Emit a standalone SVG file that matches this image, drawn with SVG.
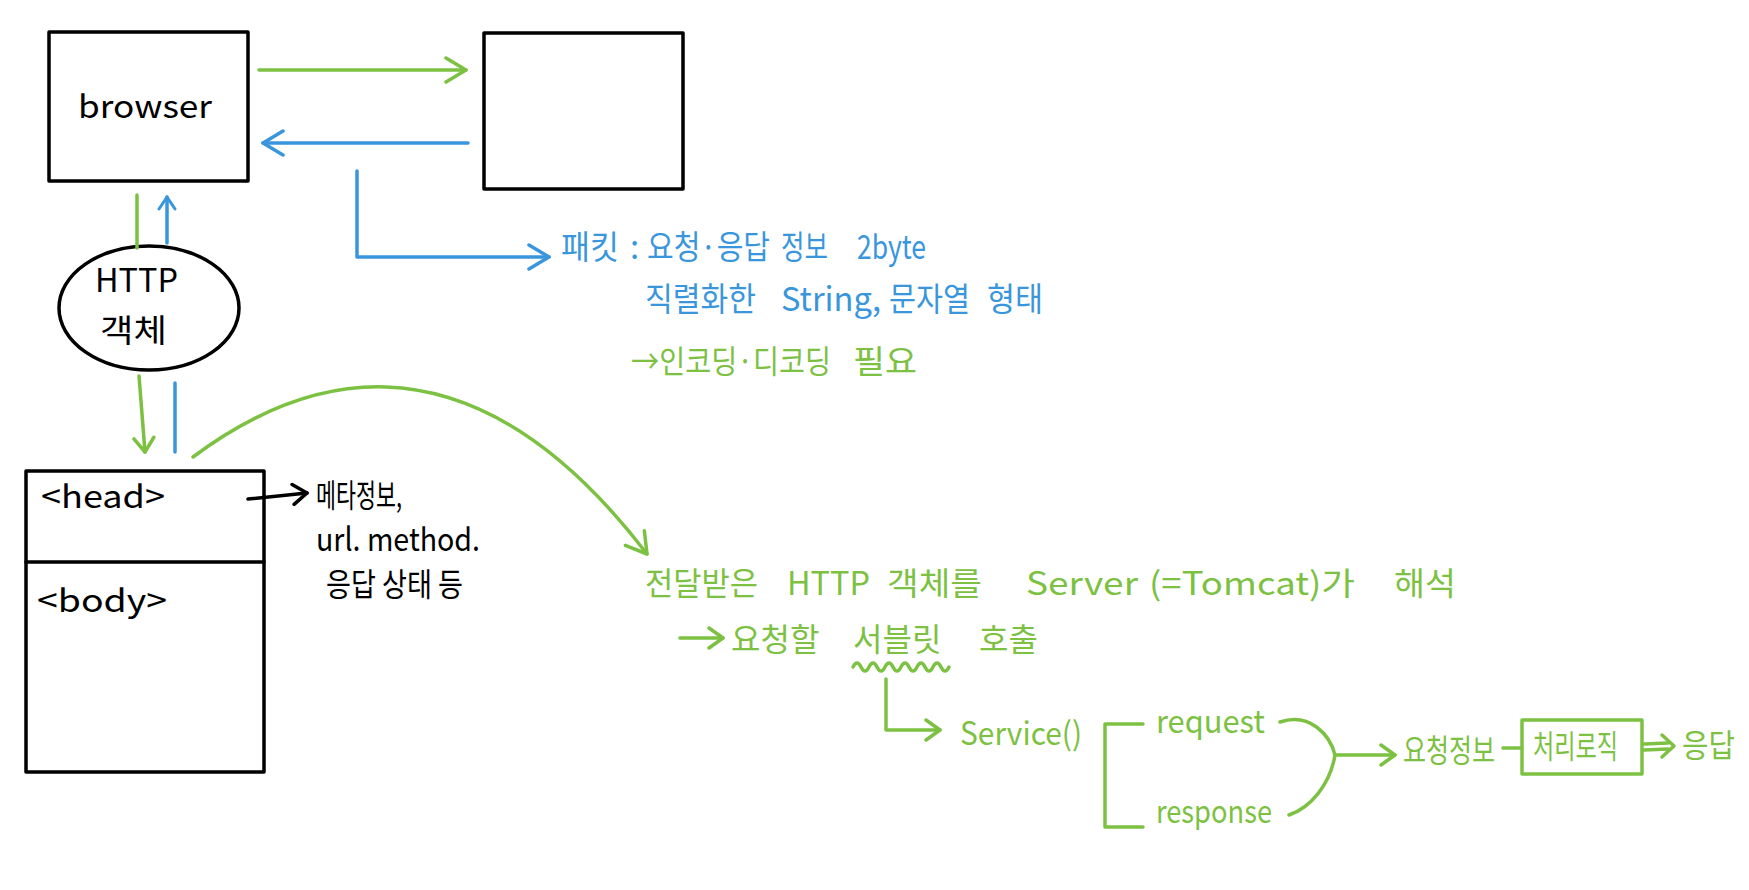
<svg xmlns="http://www.w3.org/2000/svg" width="1749" height="890" viewBox="0 0 1749 890">
<defs>
<style>
.bk{fill:none;stroke:#000;stroke-width:3.5;stroke-linecap:round;stroke-linejoin:round}
.gn{fill:none;stroke:#7cc142;stroke-width:3.5;stroke-linecap:round;stroke-linejoin:round}
.bl{fill:none;stroke:#3a96dc;stroke-width:3.5;stroke-linecap:round;stroke-linejoin:round}
text{font-family:"Noto Sans CJK KR","Noto Sans",sans-serif}
.tb{fill:#000;font-size:32px}
.tg{fill:#7cc142;font-size:32px}
.tu{fill:#3a96dc;font-size:33px}
</style>
<marker id="ag" viewBox="0 0 24 28" refX="22" refY="14" markerWidth="24" markerHeight="28" markerUnits="userSpaceOnUse" orient="auto"><path d="M2,2 L22,14 L2,26" fill="none" stroke="#7cc142" stroke-width="3.5" stroke-linecap="round" stroke-linejoin="round"/></marker>
<marker id="ab" viewBox="0 0 24 28" refX="22" refY="14" markerWidth="24" markerHeight="28" markerUnits="userSpaceOnUse" orient="auto"><path d="M2,2 L22,14 L2,26" fill="none" stroke="#3a96dc" stroke-width="3.5" stroke-linecap="round" stroke-linejoin="round"/></marker>
<marker id="abs" viewBox="0 0 16 20" refX="14" refY="10" markerWidth="16" markerHeight="20" markerUnits="userSpaceOnUse" orient="auto"><path d="M2,2 L14,10 L2,18" fill="none" stroke="#3a96dc" stroke-width="3" stroke-linecap="round" stroke-linejoin="round"/></marker>
<marker id="ags" viewBox="0 0 18 24" refX="16" refY="12" markerWidth="18" markerHeight="24" markerUnits="userSpaceOnUse" orient="auto"><path d="M2,2 L16,12 L2,22" fill="none" stroke="#7cc142" stroke-width="3.5" stroke-linecap="round" stroke-linejoin="round"/></marker>
<marker id="ak" viewBox="0 0 18 24" refX="16" refY="12" markerWidth="18" markerHeight="24" markerUnits="userSpaceOnUse" orient="auto"><path d="M2,2 L16,12 L2,22" fill="none" stroke="#000" stroke-width="3.5" stroke-linecap="round" stroke-linejoin="round"/></marker>
</defs>
<rect width="1749" height="890" fill="#fff"/>

<g id="browser">
<rect class="bk" x="49" y="32" width="199" height="149"/>
<text class="tb" x="78" y="118" font-size="36" textLength="134" lengthAdjust="spacingAndGlyphs">browser</text>
</g>

<g id="server-box">
<rect class="bk" x="484" y="33" width="199" height="156"/>
</g>

<g id="http-object">
<ellipse class="bk" cx="149" cy="308" rx="90" ry="62"/>
<text class="tb" x="95" y="292" textLength="83" lengthAdjust="spacingAndGlyphs">HTTP</text>
<text class="tb" x="100" y="342" textLength="67" lengthAdjust="spacingAndGlyphs">객체</text>
</g>

<g id="document">
<rect class="bk" x="26" y="471" width="238" height="301"/>
<line class="bk" x1="26" y1="562" x2="264" y2="562"/>
<text class="tb" x="41" y="508" font-size="34" textLength="124" lengthAdjust="spacingAndGlyphs">&lt;head&gt;</text>
<text class="tb" x="37" y="612" font-size="34" textLength="130" lengthAdjust="spacingAndGlyphs">&lt;body&gt;</text>
</g>

<g id="head-note">
<text class="tb" x="316" y="507" font-size="33" textLength="86" lengthAdjust="spacingAndGlyphs">메타정보,</text>
<text class="tb" x="316" y="551" font-size="33" textLength="164" lengthAdjust="spacingAndGlyphs">url. method.</text>
<text class="tb" x="326" y="596" font-size="33" textLength="137" lengthAdjust="spacingAndGlyphs">응답 상태 등</text>
</g>

<g id="packet-note">
<text class="tu" x="561" y="259" textLength="58" lengthAdjust="spacingAndGlyphs">패킷</text>
<text class="tu" x="630" y="259">:</text>
<text class="tu" x="647" y="259" textLength="123" lengthAdjust="spacingAndGlyphs">요청·응답</text>
<text class="tu" x="781" y="259" textLength="47" lengthAdjust="spacingAndGlyphs">정보</text>
<text class="tu" x="857" y="259" textLength="69" lengthAdjust="spacingAndGlyphs">2byte</text>
<text class="tu" x="645" y="311" textLength="111" lengthAdjust="spacingAndGlyphs">직렬화한</text>
<text class="tu" x="781" y="311" textLength="100" lengthAdjust="spacingAndGlyphs">String,</text>
<text class="tu" x="889" y="311" textLength="81" lengthAdjust="spacingAndGlyphs">문자열</text>
<text class="tu" x="987" y="311" textLength="56" lengthAdjust="spacingAndGlyphs">형태</text>
<text class="tg" x="631" y="373" font-size="33" textLength="200" lengthAdjust="spacingAndGlyphs">→인코딩·디코딩</text>
<text class="tg" x="853" y="373" font-size="33" textLength="64" lengthAdjust="spacingAndGlyphs">필요</text>
</g>

<g id="server-note">
<text class="tg" x="645" y="595" font-size="34" textLength="113" lengthAdjust="spacingAndGlyphs">전달받은</text>
<text class="tg" x="787" y="595" font-size="34" textLength="83" lengthAdjust="spacingAndGlyphs">HTTP</text>
<text class="tg" x="887" y="595" font-size="34" textLength="95" lengthAdjust="spacingAndGlyphs">객체를</text>
<text class="tg" x="1026" y="595" font-size="34" textLength="112" lengthAdjust="spacingAndGlyphs">Server</text>
<text class="tg" x="1149" y="595" font-size="34" textLength="206" lengthAdjust="spacingAndGlyphs">(=Tomcat)가</text>
<text class="tg" x="1394" y="595" font-size="34" textLength="62" lengthAdjust="spacingAndGlyphs">해석</text>
<text class="tg" y="651"><tspan x="731">요청할</tspan><tspan x="853">서블릿</tspan><tspan x="979">호출</tspan></text>
</g>

<g id="service">
<text class="tg" x="960" y="745" font-size="34" textLength="122" lengthAdjust="spacingAndGlyphs">Service()</text>
</g>

<g id="request">
<text class="tg" x="1156" y="733" font-size="32" textLength="109" lengthAdjust="spacingAndGlyphs">request</text>
</g>

<g id="response">
<text class="tg" x="1156" y="823" font-size="32" textLength="116" lengthAdjust="spacingAndGlyphs">response</text>
</g>

<g id="request-info">
<text class="tg" x="1403" y="762" font-size="30" textLength="92" lengthAdjust="spacingAndGlyphs">요청정보</text>
</g>

<g id="logic">
<rect class="gn" x="1522" y="720" width="120" height="54"/>
<text class="tg" x="1533" y="758" font-size="28" textLength="85" lengthAdjust="spacingAndGlyphs">처리로직</text>
</g>

<g id="answer">
<text class="tg" x="1682" y="757" font-size="30" textLength="53" lengthAdjust="spacingAndGlyphs">응답</text>
</g>

<g id="connectors">
<path class="gn" d="M259,70 L466,70" marker-end="url(#ag)"/>
<path class="bl" d="M468,143 L263,143" marker-end="url(#ab)"/>
<path class="bl" d="M357,171 L357,257 L549,257" marker-end="url(#ab)"/>
<path class="gn" d="M137,195 L137,248"/>
<path class="bl" d="M167,243 L167,197" marker-end="url(#abs)"/>
<path class="gn" d="M139,376 L145,452" marker-end="url(#ags)"/>
<path class="bl" d="M175,383 L175,452"/>
<path class="gn" d="M193,457 C290,385 460,310 647,554" marker-end="url(#ag)"/>
<path class="bk" d="M248,499 L307,493" marker-end="url(#ak)"/>
<path class="gn" d="M680,638 L723,638" marker-end="url(#ags)"/>
<path class="gn" d="M853,667 q4,-8 8,0 q4,8 8,0 q4,-8 8,0 q4,8 8,0 q4,-8 8,0 q4,8 8,0 q4,-8 8,0 q4,8 8,0 q4,-8 8,0 q4,8 8,0 q4,-8 8,0 q4,8 8,0"/>
<path class="gn" d="M886,679 L886,730 L940,730" marker-end="url(#ags)"/>
<path class="gn" d="M1143,724 L1105,724 L1105,827 L1143,827"/>
<path class="gn" d="M1280,722 C1310,712 1330,735 1335,755 C1330,785 1310,808 1289,815"/>
<path class="gn" d="M1335,755 L1395,755" marker-end="url(#ags)"/>
<path class="gn" d="M1503,748 L1520,748"/>
<path class="gn" d="M1644,744 L1668,743 M1644,750 L1668,749"/>
<path class="gn" d="M1662,735 L1674,746 L1662,757"/>
</g>
</svg>
